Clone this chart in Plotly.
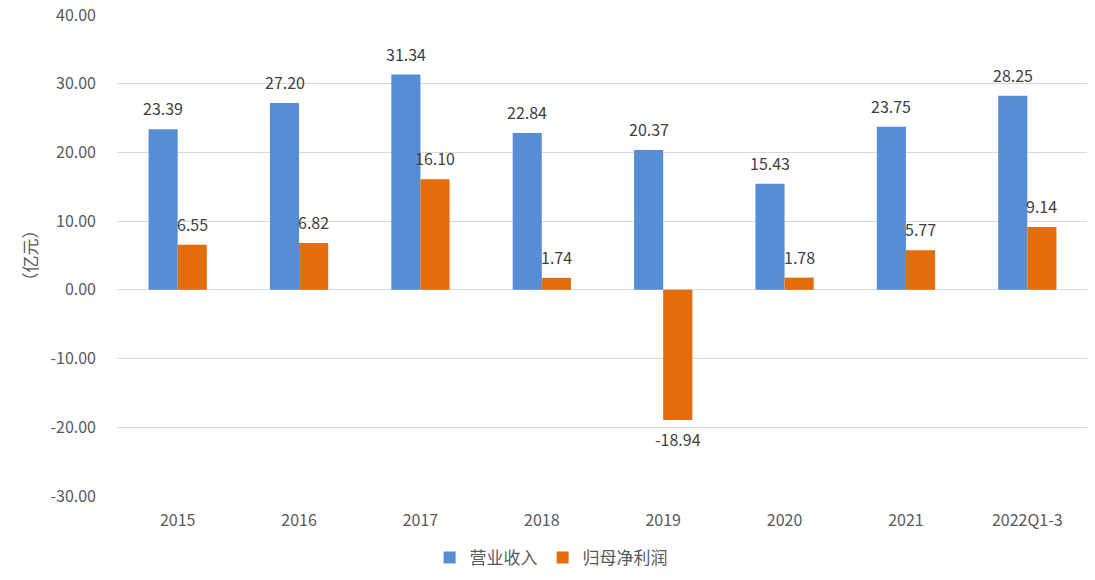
import plotly.graph_objects as go

categories = ["2015", "2016", "2017", "2018", "2019", "2020", "2021", "2022Q1-3"]
revenue = [23.39, 27.20, 31.34, 22.84, 20.37, 15.43, 23.75, 28.25]
net_profit = [6.55, 6.82, 16.10, 1.74, -18.94, 1.78, 5.77, 9.14]
y_ticks = [-30, -20, -10, 0, 10, 20, 30, 40]
y_title = "（亿元）"

font_family = "Microsoft YaHei, Noto Sans CJK SC, Liberation Sans, sans-serif"
text_color = "#404040"
tick_color = "#595959"

fig = go.Figure()
fig.add_trace(go.Bar(name="营业收入", x=categories, y=revenue, marker_color="#558ED5",
                     marker_line_width=0))
fig.add_trace(go.Bar(name="归母净利润", x=categories, y=net_profit, marker_color="#E46C0A",
                     marker_line_width=0))

# data labels: placed at each category's index on the category axis
for series, shift in ((revenue, -14.5), (net_profit, 14.5)):
    for i, v in enumerate(series):
        fig.add_annotation(
            x=i, y=v, xref="x", yref="y", xshift=shift,
            yshift=7 if v >= 0 else -5,
            yanchor="bottom" if v >= 0 else "top",
            text=f"{v:.2f}", showarrow=False,
            font=dict(size=16, color=text_color, family=font_family),
        )

# y-axis title
fig.add_annotation(
    x=-0.0896, y=0.5, xref="paper", yref="paper", xanchor="center", yanchor="middle",
    text=y_title, textangle=-90, showarrow=False,
    font=dict(size=17, color=tick_color, family=font_family),
)

fig.update_layout(
    width=1095, height=580,
    margin=dict(l=109, r=15, t=7, b=92, autoexpand=False),
    barmode="group", bargap=0.52, bargroupgap=0,
    plot_bgcolor="white", paper_bgcolor="white",
    font=dict(family=font_family, color=tick_color, size=16),
    legend=dict(orientation="h", xref="container", x=0.496, xanchor="center",
                y=-0.129, yanchor="middle",
                font=dict(size=17, color=tick_color), itemwidth=30),
    xaxis=dict(type="category", range=[-0.5, len(categories) - 0.5], showline=False,
               ticks="", automargin=False, ticklabelstandoff=13,
               tickfont=dict(size=16, color=tick_color)),
    yaxis=dict(range=[-30, 40], tickvals=y_ticks, ticktext=[f"{v:.2f}" for v in y_ticks],
               showgrid=True, gridcolor="#D9D9D9", gridwidth=1, zeroline=True,
               zerolinecolor="#D9D9D9", zerolinewidth=1, automargin=False,
               ticklabeloverflow="allow",
               tickfont=dict(size=16, color=tick_color), ticklen=0, ticklabelstandoff=20),
)

fig.write_html("out.html")
